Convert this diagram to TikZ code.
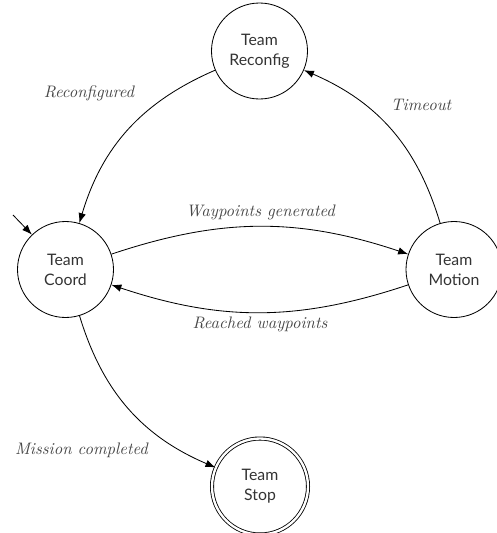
\documentclass[tikz,border=0pt]{standalone}
\usepackage{fontspec}
\newfontfamily\nodefont{Lato}
\usetikzlibrary{arrows.meta}
\begin{document}
\begin{tikzpicture}[x=0.6pt,y=-0.6pt,
  state/.style={circle,draw,line width=0.5pt,minimum size=57.6pt,inner sep=0pt,align=center,
    font=\nodefont\fontsize{9.5}{12}\selectfont,text=black!80},
  final/.style={double,double distance=1.4pt},
  lab/.style={font=\itshape\fontsize{10}{12}\selectfont,text=black!72},
  edge/.style={-{Latex[length=6pt,width=4.5pt]},line width=0.5pt}]
\useasboundingbox (0,0) rectangle (497,533);
\node[state] (R) at (259.5,51) {Team\\Reconfig};
\node[state] (C) at (65.5,269.5) {Team\\Coord};
\node[state] (M) at (454,269.5) {Team\\Motion};
\node[state,final] (S) at (260,486.5) {Team\\Stop};
\coordinate (init) at (13,215);
\draw[edge] (init) -- (C);
\draw[edge] (R) to[bend right=25] (C);
\draw[edge] (M) to[bend right=25] (R);
\draw[edge] (C) to[bend left=18.5] (M);
\draw[edge] (M) to[bend left=18.5] (C);
\draw[edge] (C) to[bend right=25] (S);
\node[lab] (l1) at (89,93) {Reconfigured};
\node[lab] (l2) at (421,105) {Timeout};
\node[lab] (l3) at (260.5,212) {Waypoints generated};
\node[lab] (l4) at (260,324) {Reached waypoints};
\node[lab] (l5) at (81.5,450) {Mission completed};
\end{tikzpicture}
\end{document}
